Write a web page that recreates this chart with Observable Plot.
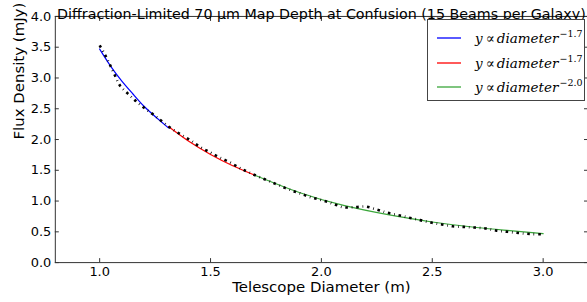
<!DOCTYPE html>
<html>
<head>
<meta charset="utf-8">
<script src="https://cdn.jsdelivr.net/npm/d3@7"></script>
<script src="https://cdn.jsdelivr.net/npm/@observablehq/plot@0.6"></script>
<style>
  html, body { margin: 0; padding: 0; background: #fff; overflow: hidden; }
  #wrap { position: relative; width: 587px; height: 302px; overflow: hidden; }
  #legend { position: absolute; left: 427px; top: 19px; width: 158px; height: 82px;
    border: 1px solid #444; background: #fff; box-sizing: border-box; }
  .row { position: absolute; left: 0; height: 20px; width: 100%; }
  .sw { position: absolute; left: 9px; top: 0; }
  .lab { position: absolute; left: 47px; top: 0; font-family: "DejaVu Serif", serif; font-size: 13.5px; white-space: nowrap; color: #000; line-height: 20px; }
  .lab i { font-style: italic; }
  .lab .rel { display: inline-block; margin: 0 2px 0 3px; }
  .lab .sup { font-style: normal; font-size: 9.5px; position: relative; top: -6px; margin-left: 1px; }
</style>
</head>
<body>
<div id="wrap"></div>
<script>
// Title & labels
const title = "Diffraction-Limited 70 \u03bcm Map Depth at Confusion (15 Beams per Galaxy)";
const xLabel = "Telescope Diameter (m)";
const yLabel = "Flux Density (mJy)";
const xTicks = [1.0, 1.5, 2.0, 2.5, 3.0];
const yTicks = [0.0, 0.5, 1.0, 1.5, 2.0, 2.5, 3.0, 3.5, 4.0];

// Measured data (black dotted)
const dataX = [1.0, 1.025, 1.047, 1.069, 1.093, 1.126, 1.165, 1.204, 1.244, 1.283, 1.323, 1.367, 1.409, 1.452, 1.499, 1.54, 1.587, 1.63, 1.67, 1.72, 1.767, 1.812, 1.86, 1.906, 1.954, 2.002, 2.05, 2.098, 2.15, 2.2, 2.25, 2.298, 2.348, 2.396, 2.445, 2.495, 2.543, 2.592, 2.642, 2.69, 2.74, 2.79, 2.84, 2.89, 2.94, 2.99];
const dataY = [3.53, 3.37, 3.21, 3.04, 2.87, 2.75, 2.62, 2.505, 2.40, 2.29, 2.18, 2.08, 1.99, 1.88, 1.79, 1.71, 1.63, 1.54, 1.47, 1.39, 1.32, 1.25, 1.18, 1.12, 1.06, 1.015, 0.96, 0.90, 0.90, 0.91, 0.86, 0.81, 0.77, 0.73, 0.69, 0.65, 0.62, 0.59, 0.58, 0.57, 0.555, 0.52, 0.50, 0.48, 0.465, 0.46];

// Fit segments
const blueX = [1.0, 1.05, 1.1, 1.15, 1.2, 1.25, 1.31];
const blueY = [3.47, 3.19, 2.95, 2.74, 2.54, 2.375, 2.19];
const redX = [1.31, 1.4, 1.5, 1.6, 1.7];
const redY = [2.21, 1.975, 1.757, 1.574, 1.42];
const greenX = [1.7, 1.9, 2.1, 2.3, 2.5, 2.7, 2.85, 3.0];
const greenY = [1.42, 1.14, 0.93, 0.78, 0.66, 0.57, 0.52, 0.47];

const legendLabels = ["-1.7", "-1.7", "-2.0"];
const colors = ["#0000ff", "#ff0000", "#3aa63a"];

const toRows = (xs, ys) => xs.map((x, i) => ({x, y: ys[i]}));
const data = toRows(dataX, dataY);
const segs = [toRows(blueX, blueY), toRows(redX, redY), toRows(greenX, greenY)];

const font = "DejaVu Sans";
const noLabel = () => "";
const chart = Plot.plot({
  width: 589, height: 302,
  marginLeft: 55, marginRight: 0, marginTop: 16, marginBottom: 39,
  style: {fontFamily: font, background: "#fff", color: "#000"},
  x: {domain: [0.8, 3.2]},
  y: {domain: [0, 4]},
  marks: [
    ...segs.map((s, i) => Plot.line(s, {x: "x", y: "y", stroke: colors[i], strokeWidth: 1.2, curve: "natural"})),
    Plot.line(data, {x: "x", y: "y", stroke: "#000", strokeWidth: 2.6, curve: "catmull-rom",
      strokeDasharray: "2.6,3.8,0.7,3.8", strokeLinecap: "butt"}),
    Plot.frame({stroke: "#333", strokeWidth: 1}),
    Plot.axisX(xTicks, {anchor: "bottom", tickSize: -4, tickPadding: 8, tickFormat: d3.format(".1f"), fontSize: 13, label: null, stroke: "#333"}),
    Plot.axisX(xTicks, {anchor: "top", tickSize: -4, tickFormat: noLabel, label: null, stroke: "#333"}),
    Plot.axisY(yTicks, {anchor: "left", tickSize: -4, tickPadding: 8, tickFormat: d3.format(".1f"), fontSize: 13, label: null, stroke: "#333"}),
    Plot.axisY(yTicks, {anchor: "right", tickSize: -4, tickFormat: noLabel, label: null, stroke: "#333"}),
    Plot.text([xLabel], {text: d => d, frameAnchor: "bottom", dy: 29, fontSize: 15, fill: "#000"}),
    Plot.text([yLabel], {text: d => d, frameAnchor: "left", dx: -36, rotate: -90, fontSize: 15, fill: "#000"}),
    Plot.text([title], {text: d => d, frameAnchor: "top", dy: -8, fontSize: 14.3, fill: "#000"})
  ]
});
const wrap = document.getElementById("wrap");
wrap.appendChild(chart);

const legend = document.createElement("div");
legend.id = "legend";
legendLabels.forEach((e, i) => {
  const row = document.createElement("div");
  row.className = "row";
  row.style.top = (8 + i * 24.5) + "px";
  row.innerHTML = `<svg class="sw" width="26" height="20"><line x1="0" x2="24" y1="10" y2="10" stroke="${colors[i]}" stroke-width="1.3"/></svg><div class="lab"><i>y</i><span class="rel">\u221d</span><i>diameter</i><span class="sup">${e.replace("-", "\u2212")}</span></div>`;
  legend.appendChild(row);
});
wrap.appendChild(legend);
</script>
</body>
</html>
